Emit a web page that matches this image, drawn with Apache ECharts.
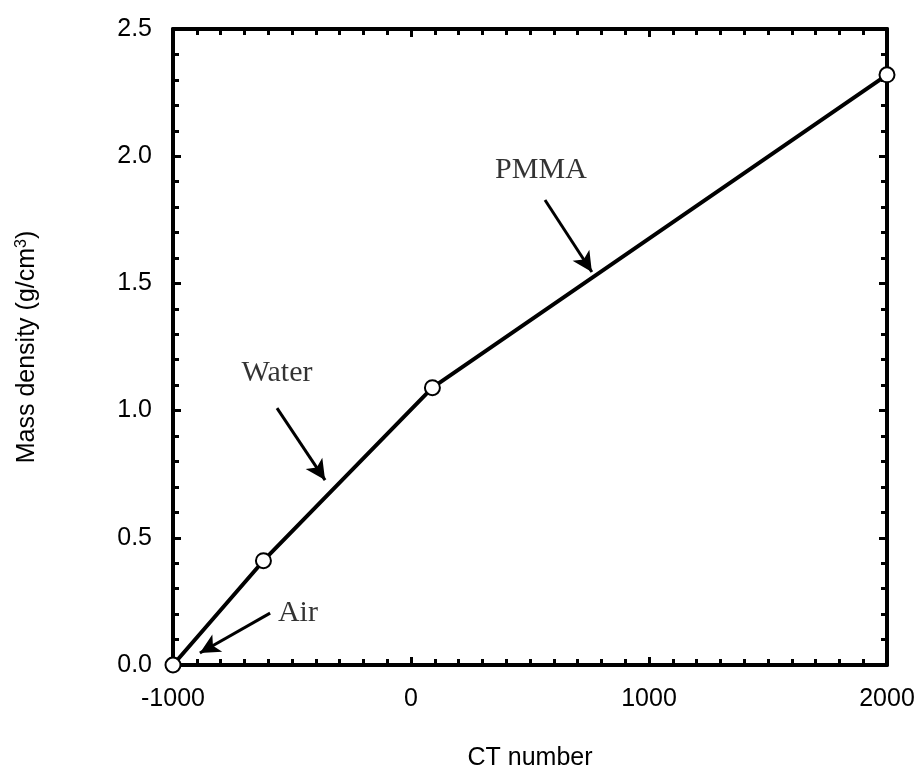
<!DOCTYPE html>
<html><head><meta charset="utf-8">
<script src="https://cdn.jsdelivr.net/npm/echarts@6/dist/echarts.min.js"></script>
<style>html,body{margin:0;padding:0;background:#fff}#c{width:922px;height:769px}</style>
</head><body><div id="c"></div>
<script>
const ctNumber = [-1000, -620, 90, 2000];
const massDensity = [0.0, 0.41, 1.09, 2.32];
const xTicks = [-1000, 0, 1000, 2000];
const yTicks = [0.0, 0.5, 1.0, 1.5, 2.0, 2.5];
const labelNames = ['Water', 'PMMA', 'Air'];
const labelAt = [[-563, 1.148], [546, 1.945], [-475, 0.205]];
const arrowFrom = [[-563, 1.01], [563, 1.828], [-592, 0.204]];
const arrowTo = [[-361, 0.727], [760, 1.545], [-887, 0.047]];

const chart = echarts.init(document.getElementById('c'));
const sans = 'Liberation Sans, Arial, sans-serif';
const serif = 'Liberation Serif, Times New Roman, serif';
const axisCommon = {
  axisLine: {show: true, onZero: false, lineStyle: {color: '#000', width: 4}},
  axisTick: {show: true, inside: true, length: 8, lineStyle: {color: '#000', width: 3}},
  minorTick: {show: true, splitNumber: 0, length: 6, lineStyle: {color: '#000', width: 3}},
  splitLine: {show: false}
};
const xBase = Object.assign({}, axisCommon, {type: 'value', min: xTicks[0], max: xTicks[xTicks.length-1], interval: 1000,
  minorTick: Object.assign({}, axisCommon.minorTick, {splitNumber: 10})});
const yBase = Object.assign({}, axisCommon, {type: 'value', min: yTicks[0], max: yTicks[yTicks.length-1], interval: 0.5,
  minorTick: Object.assign({}, axisCommon.minorTick, {splitNumber: 5})});

chart.setOption({
  animation: false,
  grid: {left: 173, right: 35, top: 29, bottom: 104, outerBoundsMode: 'none', containLabel: false},
  xAxis: [
    Object.assign({}, xBase, {position: 'bottom', name: 'CT number', nameLocation: 'middle', nameGap: 81,
      nameTextStyle: {fontFamily: sans, fontSize: 25, color: '#000'},
      axisLabel: {fontFamily: sans, fontSize: 25, color: '#000', margin: 22, formatter: v => String(v)}}),
    Object.assign({}, xBase, {position: 'top', axisLabel: {show: false}})
  ],
  yAxis: [
    Object.assign({}, yBase, {position: 'left', name: 'Mass density (g/cm{sup|3})', nameLocation: 'middle', nameGap: 133,
      nameTextStyle: {fontFamily: sans, fontSize: 25, color: '#000', rich: {sup: {fontFamily: sans, fontSize: 16, color: '#000', verticalAlign: 'top', padding: [0,0,10,0]}}},
      axisLabel: {fontFamily: sans, fontSize: 25, color: '#000', margin: 21, formatter: v => v.toFixed(1)}}),
    Object.assign({}, yBase, {position: 'right', axisLabel: {show: false}})
  ],
  series: [
    {
      type: 'line',
      data: ctNumber.map((x, i) => [x, massDensity[i]]),
      lineStyle: {color: '#000', width: 4},
      symbol: 'circle', symbolSize: 15,
      itemStyle: {color: '#fff', borderColor: '#000', borderWidth: 2},
      z: 5,
      markLine: {
        silent: true,
        symbol: ['none', 'arrow'],
        symbolSize: [15, 20],
        lineStyle: {color: '#000', width: 3, type: 'solid'},
        label: {show: false},
        data: arrowFrom.map((f, i) => [{coord: f}, {coord: arrowTo[i]}])
      }
    },
    {
      type: 'scatter',
      data: labelAt.map((p, i) => ({value: p, name: labelNames[i]})),
      symbolSize: 0,
      label: {show: true, position: 'inside', formatter: p => p.name, fontFamily: serif, fontSize: 30, color: '#000'},
      silent: true
    }
  ]
});
</script></body></html>
